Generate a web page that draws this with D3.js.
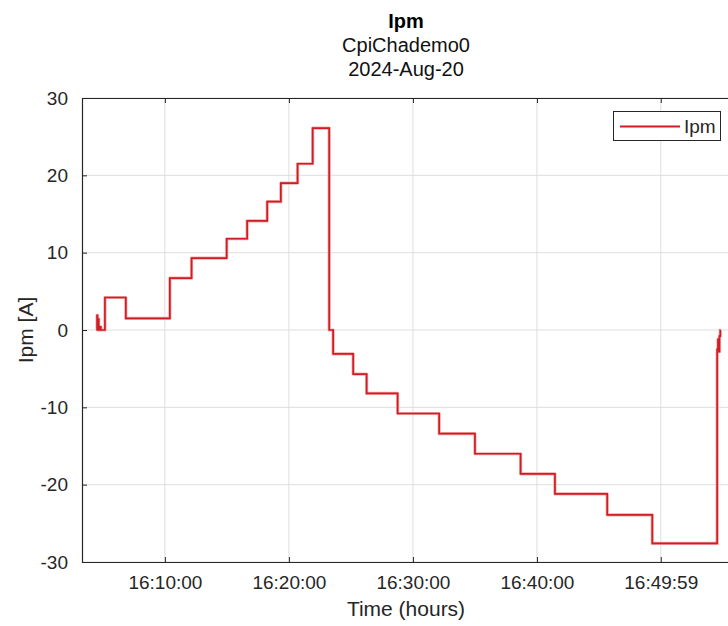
<!DOCTYPE html>
<html>
<head>
<meta charset="utf-8">
<script src="https://cdn.jsdelivr.net/npm/d3@7"></script>
<style>
  body { margin: 0; background: #fff; }
  svg { font-family: "Liberation Sans", Arial, sans-serif; }
</style>
</head>
<body>
<svg id="chart" width="728" height="626"></svg>
<script>
// Ipm samples (time of day, amps)
var times = ["16:04:29","16:04:32","16:04:34","16:04:37","16:04:40","16:04:46","16:04:50",
             "16:05:10","16:06:51","16:10:24","16:12:09","16:14:59","16:16:38","16:18:15",
             "16:19:21","16:20:42","16:21:55","16:23:15","16:23:34","16:25:11","16:26:16",
             "16:28:46","16:32:07","16:35:00","16:38:41","16:41:27","16:45:40","16:49:18",
             "16:54:32","16:54:36","16:54:40","16:54:43","16:54:47","16:54:48"];
var ipm = [0, 1.9, 0.2, 1.4, 0, 0.4, 0,
           4.2, 1.5, 6.7, 9.3, 11.8, 14.1, 16.6,
           19.0, 21.5, 26.1, 0, -3.1, -5.7, -8.2,
           -10.8, -13.4, -16.0, -18.6, -21.2, -23.9, -27.6,
           -2.5, -1.2, -2.8, -0.8, 0, 0];

var xTickTimes = ["16:10:00","16:20:00","16:30:00","16:40:00","16:49:59"];
var xTickLabels = ["16:10:00","16:20:00","16:30:00","16:40:00","16:49:59"];
var yTicks = [-30, -20, -10, 0, 10, 20, 30];
var xLimits = ["16:03:19", "16:55:34"];

var parse = d3.timeParse("%Y-%m-%d %H:%M:%S");
function t(s) { return parse("2024-08-20 " + s); }

var data = times.map(function(s, i) { return {t: t(s), v: ipm[i]}; });

// plot box (right edge falls just outside the window)
var pLeft = 82, pRight = 730, pTop = 98, pBottom = 562;
var axisColor = "#262626";

var svg = d3.select("#chart");

var x = d3.scaleTime().domain(xLimits.map(t)).range([pLeft, pRight]);
var y = d3.scaleLinear().domain([-30, 30]).range([pBottom, pTop]);

// grid
var grid = svg.append("g");
grid.selectAll(".gx").data(xTickTimes).enter().append("line")
    .attr("x1", function(d) { return x(t(d)); })
    .attr("x2", function(d) { return x(t(d)); })
    .attr("y1", pTop).attr("y2", pBottom)
    .attr("stroke", "#dedede").attr("stroke-width", 1);
grid.selectAll(".gy").data(yTicks).enter().append("line")
    .attr("x1", pLeft).attr("x2", pRight)
    .attr("y1", function(d) { return y(d); })
    .attr("y2", function(d) { return y(d); })
    .attr("stroke", "#dedede").attr("stroke-width", 1);

// axes (ticks inward like matlab)
var xAxis = d3.axisBottom(x)
    .tickValues(xTickTimes.map(t))
    .tickFormat(function(d, i) { return xTickLabels[i]; })
    .tickSizeInner(-5).tickSizeOuter(0).tickPadding(14);
var gx = svg.append("g").attr("transform", "translate(0," + pBottom + ")").call(xAxis);

var xTop = d3.axisTop(x).tickValues(xTickTimes.map(t)).tickFormat("")
    .tickSizeInner(-5).tickSizeOuter(0);
var gxt = svg.append("g").attr("transform", "translate(0," + pTop + ")").call(xTop);

var yAxis = d3.axisLeft(y).tickValues(yTicks)
    .tickFormat(function(d) { return String(d); })
    .tickSizeInner(-5).tickSizeOuter(0).tickPadding(14);
var gy = svg.append("g").attr("transform", "translate(" + pLeft + ",0)").call(yAxis);

[gx, gxt, gy].forEach(function(g) {
  g.selectAll("path").attr("stroke", axisColor).attr("stroke-width", 1.2);
  g.selectAll("line").attr("stroke", axisColor);
  g.selectAll("text").attr("fill", axisColor)
    .style("font-size", "19px").style("font-family", "Liberation Sans, Arial, sans-serif");
});

// the series
var line = d3.line()
    .x(function(d) { return x(d.t); })
    .y(function(d) { return y(d.v); })
    .curve(d3.curveStepAfter);

svg.append("path").datum(data)
    .attr("d", line)
    .attr("fill", "none")
    .attr("stroke", "#f4aaaa")
    .attr("stroke-width", 3.2)
    .attr("stroke-linejoin", "round");
svg.append("path").datum(data)
    .attr("d", line)
    .attr("fill", "none")
    .attr("stroke", "#d01c24")
    .attr("stroke-width", 1.7);

// titles
var cx = (pLeft + pRight) / 2;
svg.append("text").attr("x", cx).attr("y", 28).attr("text-anchor", "middle")
    .style("font-size", "20px").style("font-weight", "bold").text("Ipm");
svg.append("text").attr("x", cx).attr("y", 52).attr("text-anchor", "middle")
    .style("font-size", "20px").attr("fill", "#111").text("CpiChademo0");
svg.append("text").attr("x", cx).attr("y", 76).attr("text-anchor", "middle")
    .style("font-size", "20px").attr("fill", "#111").text("2024-Aug-20");

// axis labels
svg.append("text").attr("x", cx).attr("y", 616).attr("text-anchor", "middle")
    .style("font-size", "21px").attr("fill", axisColor).text("Time (hours)");
svg.append("text")
    .attr("transform", "translate(33," + ((pTop + pBottom) / 2) + ") rotate(-90)")
    .attr("text-anchor", "middle")
    .style("font-size", "21px").attr("fill", axisColor).text("Ipm [A]");

// legend
var lg = svg.append("g");
lg.append("rect").attr("x", 613.5).attr("y", 111.5).attr("width", 107).attr("height", 29)
    .attr("fill", "#fff").attr("stroke", axisColor).attr("stroke-width", 1);
lg.append("line").attr("x1", 620).attr("x2", 680).attr("y1", 126.5).attr("y2", 126.5)
    .attr("stroke", "#d01c24").attr("stroke-width", 2);
lg.append("text").attr("x", 684).attr("y", 133).style("font-size", "19px")
    .attr("fill", axisColor).text("Ipm");
</script>
</body>
</html>
